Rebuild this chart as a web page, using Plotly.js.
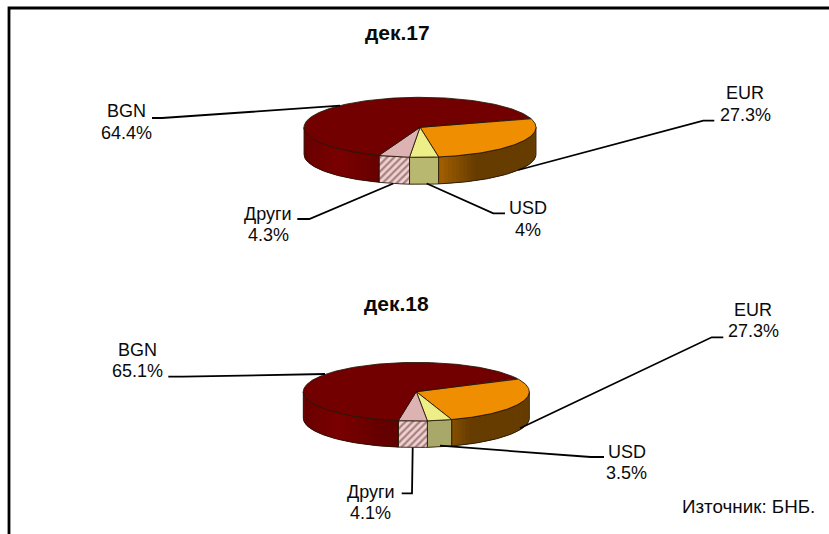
<!DOCTYPE html>
<html><head><meta charset="utf-8">
<script src="https://cdn.plot.ly/plotly-3.0.1.min.js"></script>
<style>html,body{margin:0;padding:0;background:#fff}#c{width:829px;height:534px}</style></head>
<body><div id="c"></div>
<script>
var categories = ['EUR','USD','Други','BGN'];
var values17 = [27.3,4,4.3,64.4];
var values18 = [27.3,3.5,4.1,65.1];
var titles = ['дек.17','дек.18'];
var sourceNote = 'Източник: БНБ.';

var FONT = '"Liberation Sans", Arial, sans-serif';
var topColors = ['#ee8e00','#eeee88','#dcb2b2','#720000'];
var traces = [];

function hex(c){return [1,3,5].map(function(i){return parseInt(c.substr(i,2),16);});}
function mix(a,b,t){t=Math.max(0,Math.min(1,t));var A=hex(a),B=hex(b);
  return 'rgb('+A.map(function(v,i){return Math.round(v+(B[i]-v)*t);}).join(',')+')';}
var OUT='rgba(35,20,5,0.85)';

function wallColor(idx,x,p){
  var t=(x-p.cx+p.rx)/(2*p.rx);
  if(idx===0) return t<0.74?mix('#a46000','#663c00',(t-0.58)/0.16):'#663c00';
  if(idx===1) return p.usd;
  return t<0.15?mix('#680000','#7a0000',t/0.15):mix('#7a0000','#640000',(t-0.15)/0.2);
}
function drawPie(values,p){
  function pt(d,dz){var r=d*Math.PI/180;return [p.cx+p.rx*Math.cos(r),p.cy-p.ry*Math.sin(r)+(dz||0)];}
  function arc(a,b,dz){var o=[],n=Math.max(2,Math.ceil(Math.abs(a-b)));
    for(var i=0;i<=n;i++)o.push(pt(a+(b-a)*i/n,dz));return o;}
  function poly(pts,extra){var x=pts.map(function(q){return q[0];}),y=pts.map(function(q){return q[1];});
    traces.push(Object.assign({type:'scatter',mode:'lines',x:x,y:y,hoverinfo:'skip',showlegend:false},extra));}
  var total=values.reduce(function(s,v){return s+v;},0),a=p.start,spans=[];
  values.forEach(function(v){var b=a-v/total*360;spans.push([a,b]);a=b;});
  // walls
  spans.forEach(function(sp,i){
    var a0=Math.min(sp[0],0),a1=Math.max(sp[1],-180);
    if(a0<=a1)return;
    if(i===2){
      var pts=arc(a0,a1,0).concat(arc(a1,a0,p.depth));pts.push(pts[0]);
      poly(pts,{fill:'toself',fillcolor:'#eecfcf',line:{width:0},
        fillpattern:{shape:'/',bgcolor:'#efd2d2',fgcolor:'#a88080',size:5,solidity:0.45}});
    }else{
      var st=2,ov=2;
      for(var d=a0;d>a1;d-=st){var e=Math.max(d-st-ov,a1);
        var c=wallColor(i,pt(d-st/2)[0],p);
        var q=arc(d,e,0).concat(arc(e,d,p.depth));q.push(q[0]);
        poly(q,{fill:'toself',fillcolor:c,line:{width:0}});}
    }
    var o=arc(a0,a1,0).concat(arc(a1,a0,p.depth));o.push(o[0]);
    poly(o,{line:{width:1,color:OUT}});
  });
  // tops
  spans.forEach(function(sp,i){
    var q=[[p.cx,p.cy]].concat(arc(sp[0],sp[1],0));q.push([p.cx,p.cy]);
    poly(q,{fill:'toself',fillcolor:topColors[i],line:{width:1,color:OUT}});
  });
}
drawPie(values17,{cx:420,cy:127.3,rx:116,ry:30,depth:27,start:17.5,usd:'#b8b870'});
drawPie(values18,{cx:416.3,cy:391.7,rx:113,ry:29.3,depth:26.5,start:26.5,usd:'#a8a86a'});

function leader(pts,w){return {type:'path',layer:'above',xref:'x',yref:'y',
  path:pts.map(function(q,i){return (i?'L':'M')+q[0]+','+q[1];}).join(' '),
  line:{color:'#000',width:w||1.8}};}
var shapes=[
  {type:'path',layer:'above',xref:'x',yref:'y',path:'M9,534 L9,8 L829,8',line:{color:'#000',width:2.8}},
  leader([[152,118],[162,118],[340,105.7]]),
  leader([[297.3,219],[309.3,219],[393.3,183.5]]),
  leader([[505,213.3],[493.3,213.3],[426.7,183.5]]),
  leader([[714.3,120.7],[703.3,120.7],[518.3,170]]),
  leader([[723.3,337.3],[711.7,337.3],[520,428.3]]),
  leader([[604,457],[590.7,457],[440,445.7]]),
  leader([[168.3,376.7],[183,376.7],[325,374]]),
  leader([[401.7,493.3],[412,493.3],[412.7,447.5]])
];
function txt(s,x,y,size,bold){return {text:bold?'<b>'+s+'</b>':s,x:x,y:y,xref:'x',yref:'y',showarrow:false,
  xanchor:'center',yanchor:'middle',font:{family:FONT,size:size,color:'#0a0a0a'}};}
var LS=18;
function lab(i,vals,x,y1,y2){return [txt(categories[i],x,y1,LS),txt(vals[i]+'%',x,y2,LS)];}
var annotations=[txt(titles[0],397,32,21,true),txt(titles[1],396,303,21,true),txt(sourceNote,748,506,18.8)]
 .concat(lab(3,values17,126.7,111,133),lab(0,values17,745,92.7,115),lab(1,values17,527.7,208,230),lab(2,values17,268.3,214.3,235))
 .concat(lab(3,values18,137.3,350,371),lab(0,values18,753.3,310,330.7),lab(1,values18,626.7,452.3,472.7),lab(2,values18,370.7,492.3,512.7));

var ax={visible:false,showgrid:false,zeroline:false,fixedrange:true};
Plotly.newPlot('c',traces,{
  width:829,height:534,margin:{l:0,r:0,t:0,b:0},paper_bgcolor:'#fff',plot_bgcolor:'#fff',showlegend:false,hovermode:false,
  xaxis:Object.assign({range:[0,829]},ax),yaxis:Object.assign({range:[534,0]},ax),
  shapes:shapes,annotations:annotations
},{displayModeBar:false,staticPlot:true});
</script></body></html>
